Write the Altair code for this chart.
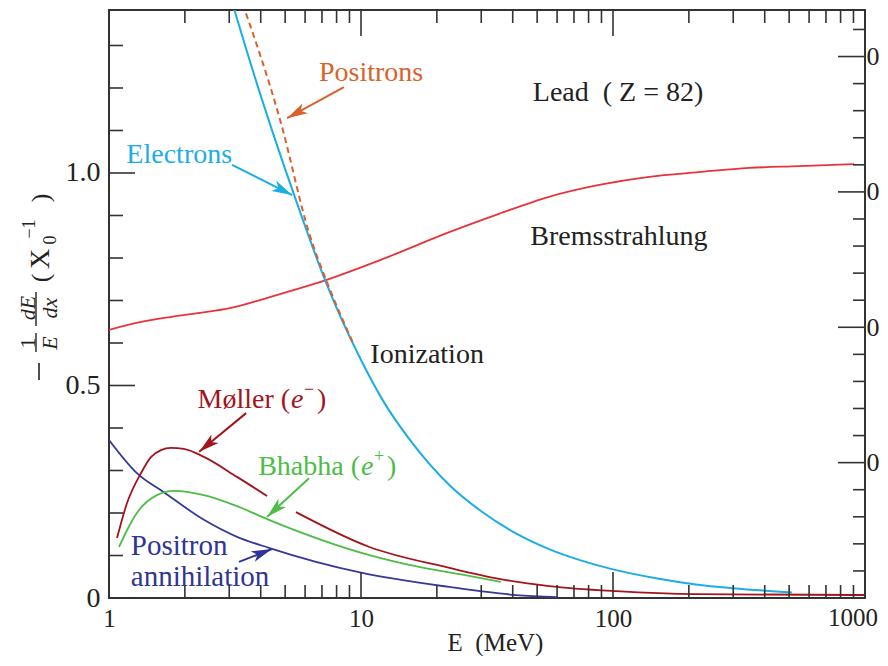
import math
import altair as alt
import pandas as pd

SERIF = "Liberation Serif"
INK = "#222222"

# ---------------- data (E in MeV, value in X0^-1) ----------------
electron_E = [3.0, 3.13, 4.05, 5.52, 7.20, 10.0, 12.5, 15.5, 22.4, 30.2, 41.2, 55.7, 75, 99.1, 150, 213, 300, 513]
electron_v = [1.425, 1.388, 1.172, 0.936, 0.748, 0.56, 0.455, 0.375, 0.266, 0.203, 0.152, 0.115, 0.088, 0.068, 0.046, 0.032, 0.023, 0.013]

positron_E = [3.29, 4.81, 6.22, 7.46, 9.3]
positron_v = [1.42, 1.118, 0.859, 0.732, 0.60]

brems_E = [1.0, 1.327, 1.746, 2.296, 3.02, 3.97, 5.23, 7.26, 11.9, 22.4, 35.3, 55.7, 88.1, 139, 219, 347, 549, 906]
brems_v = [0.631, 0.649, 0.661, 0.671, 0.682, 0.701, 0.722, 0.748, 0.795, 0.861, 0.904, 0.944, 0.972, 0.991, 1.002, 1.012, 1.016, 1.021]

moller1_E = [1.076, 1.18, 1.34, 1.47, 1.61, 1.76, 1.98, 2.38, 3.22, 4.24]
moller1_v = [0.141, 0.224, 0.294, 0.332, 0.348, 0.353, 0.351, 0.332, 0.285, 0.240]
moller2_E = [5.52, 10.8, 22.4, 35.3, 55.7, 103, 213, 1000]
moller2_v = [0.202, 0.120, 0.071, 0.045, 0.028, 0.016, 0.009, 0.007]

bhabha_E = [1.096, 1.18, 1.29, 1.55, 1.81, 2.38, 3.22, 4.31, 10.8, 17.0, 26.8, 35.9]
bhabha_v = [0.12, 0.16, 0.20, 0.242, 0.252, 0.242, 0.216, 0.184, 0.101, 0.073, 0.052, 0.038]

annih_E = [1.0, 1.29, 1.65, 2.38, 3.22, 4.31, 10.1, 22.4, 41.2, 60]
annih_v = [0.372, 0.294, 0.249, 0.184, 0.144, 0.118, 0.059, 0.026, 0.007, 0.002]

# tick values
x_major = [1, 10, 100, 1000]
x_minor = [2, 3, 4, 5, 6, 7, 8, 9, 20, 30, 40, 50, 60, 70, 80, 90,
           200, 300, 400, 500, 600, 700, 800, 900]
y_major = [0, 0.5, 1.0]
y_minor = [0.1, 0.2, 0.3, 0.4, 0.6, 0.7, 0.8, 0.9, 1.1, 1.2, 1.3]
X0_LEAD = 6.37  # g/cm^2 (right axis in cm^2/g)
r_major = [0.05, 0.10, 0.15, 0.20]
r_minor = [0.01, 0.02, 0.03, 0.04, 0.06, 0.07, 0.08, 0.09, 0.11, 0.12, 0.13, 0.14,
           0.16, 0.17, 0.18, 0.19, 0.21]

# annotations (data coordinates)
label_text = ["Positrons", "Electrons", "Lead\u2002( Z = 82)", "Bremsstrahlung", "Ionization"]
label_E = [10.96, 1.90, 104.7, 105.6, 18.3]
label_v = [1.235, 1.042, 1.188, 0.849, 0.572]
label_col = ["#d9622b", "#1aaee5", INK, INK, INK]

left_text = ["Positron", "annihilation"]
left_E = [1.22, 1.22]
left_v = [0.123, 0.049]

# composite labels "Møller (e−)" / "Bhabha (e+)": anchor where "(" ends
comp_name = ["Møller (", "Bhabha ("]
comp_sup = ["−", "+"]
comp_E = [5.23, 9.91]
comp_v = [0.466, 0.308]
comp_col = ["#a3141c", "#4dbd48"]

arrow_E0 = [8.56, 3.08, 3.50, 6.22, 3.28]
arrow_v0 = [1.202, 1.019, 0.435, 0.282, 0.085]
arrow_E1 = [5.09, 5.33, 2.28, 4.24, 4.43]
arrow_v1 = [1.129, 0.948, 0.344, 0.191, 0.115]
arrow_col = ["#d9622b", "#1aaee5", "#a3141c", "#4dbd48", "#2f3596"]

# ---------------- layout ----------------
W, H = 756, 588
YMAX = 1.3835
XS = alt.Scale(type="log", domain=[1, 1000], nice=False)
YS = alt.Scale(domain=[0, YMAX], nice=False, zero=False)

x_axis = alt.Axis(values=[1, 10, 100], format="d", ticks=False, domain=False, grid=False,
                  labelFlush=False,
                  labelFont=SERIF, labelFontSize=25, labelColor=INK, labelPadding=8,
                  title="E\u2002(MeV)", titleFont=SERIF, titleFontSize=25,
                  titleFontWeight="normal", titleColor=INK, titleX=386, titleY=52,
                  titleAlign="center", titleBaseline="alphabetic")
y_axis = alt.Axis(values=y_major, labelExpr="datum.value == 0 ? '0' : format(datum.value, '.1f')",
                  ticks=False, domain=False, grid=False, labelFlush=False, labelFont=SERIF,
                  labelFontSize=28, labelColor=INK, labelPadding=9, title=None)


def X(field="E"):
    return alt.X(f"{field}:Q", scale=XS, axis=x_axis)


def Y(field="v"):
    return alt.Y(f"{field}:Q", scale=YS, axis=y_axis)


def curve(E, v, color, width=1.8, dash=None):
    kw = dict(color=color, strokeWidth=width, interpolate="monotone", clip=True)
    if dash:
        kw["strokeDash"] = dash
    return alt.Chart(pd.DataFrame({"E": E, "v": v})).mark_line(**kw).encode(x=X(), y=Y())


layers = [
    curve(brems_E, brems_v, "#e8333c"),
    curve(annih_E, annih_v, "#353a96"),
    curve(bhabha_E, bhabha_v, "#4dbd48"),
    curve(moller1_E, moller1_v, "#a3141c"),
    curve(moller2_E, moller2_v, "#a3141c"),
    curve(electron_E, electron_v, "#1aaee5", width=2.0),
    curve(positron_E, positron_v, "#d9622b", width=2.0, dash=[6, 4]),
]

TICK = dict(color="#333333", strokeWidth=1.6)


def xticks(vals, length, top):
    c = alt.Chart(pd.DataFrame({"E": vals})).mark_rule(**TICK)
    if top:
        return c.encode(x=X(), y=alt.value(0), y2=alt.value(length))
    return c.encode(x=X(), y=alt.value(H), y2=alt.value(H - length))


def yticks(vals, length):
    return alt.Chart(pd.DataFrame({"v": vals})).mark_rule(**TICK).encode(
        y=Y(), x=alt.value(0), x2=alt.value(length))


layers += [
    xticks(x_major, 26, False),
    xticks(x_minor, 13, False),
    xticks(x_major, 26, True),
    xticks(x_minor, 13, True),
    yticks(y_major, 26),
    yticks(y_minor, 14),
]

# "1000" label placed slightly inside the frame, as in the reference
layers.append(
    alt.Chart(pd.DataFrame({"E": [1000], "t": ["1000"]})).mark_text(
        font=SERIF, fontSize=25, color=INK, align="right", baseline="top", dx=13
    ).encode(x=X(), y=alt.value(H + 8), text="t:N")
)

# arrows
px_dec = W / 3.0
px_unit = H / YMAX
ang = []
for e0, v0, e1, v1 in zip(arrow_E0, arrow_v0, arrow_E1, arrow_v1):
    dx = px_dec * math.log10(e1 / e0)
    dy = -px_unit * (v1 - v0)
    ang.append(math.degrees(math.atan2(dx, -dy)) % 360)
arrows = pd.DataFrame({"E0": arrow_E0, "v0": arrow_v0, "E1": arrow_E1, "v1": arrow_v1,
                       "c": arrow_col, "a": ang})
layers.append(
    alt.Chart(arrows).mark_rule(strokeWidth=2).encode(
        x=X("E0"), y=Y("v0"), x2="E1:Q", y2="v1:Q", color=alt.Color("c:N", scale=None))
)
layers.append(
    alt.Chart(arrows).mark_point(shape="M0,0L0.55,2L0,1.5L-0.55,2Z", filled=True, size=420,
                                 opacity=1, strokeWidth=0).encode(
        x=X("E1"), y=Y("v1"), color=alt.Color("c:N", scale=None),
        angle=alt.Angle("a:Q", scale=None))
)

# curve labels
LBL = 28
layers.append(
    alt.Chart(pd.DataFrame({"E": label_E, "v": label_v, "t": label_text, "c": label_col}))
    .mark_text(font=SERIF, fontSize=LBL, align="center", baseline="middle")
    .encode(x=X(), y=Y(), text="t:N", color=alt.Color("c:N", scale=None))
)
layers.append(
    alt.Chart(pd.DataFrame({"E": left_E, "v": left_v, "t": left_text}))
    .mark_text(font=SERIF, fontSize=29, align="left", baseline="middle", color="#2f3596")
    .encode(x=X(), y=Y(), text="t:N")
)
comp = pd.DataFrame({"E": comp_E, "v": comp_v, "t": comp_name, "s": comp_sup, "c": comp_col,
                     "e": ["e", "e"], "p": [")", ")"]})
CC = alt.Color("c:N", scale=None)
layers += [
    alt.Chart(comp).mark_text(font=SERIF, fontSize=LBL, align="right", baseline="middle")
    .encode(x=X(), y=Y(), text="t:N", color=CC),
    alt.Chart(comp).mark_text(font=SERIF, fontSize=LBL, fontStyle="italic", align="left",
                              baseline="middle", dx=1)
    .encode(x=X(), y=Y(), text="e:N", color=CC),
    alt.Chart(comp).mark_text(font=SERIF, fontSize=18, align="left", baseline="middle",
                              dx=14, dy=-10)
    .encode(x=X(), y=Y(), text="s:N", color=CC),
    alt.Chart(comp).mark_text(font=SERIF, fontSize=LBL, align="left", baseline="middle", dx=27)
    .encode(x=X(), y=Y(), text="p:N", color=CC),
]

# y-axis title  -(1/E)(dE/dx) (X0^-1), built from rotated pieces
DUMMY = alt.Data(values=[{}])


def ptxt(t, x, y, size=22, style="normal"):
    return alt.Chart(DUMMY).mark_text(text=t, font=SERIF, fontSize=size, fontStyle=style,
                                      color=INK, angle=270, align="center",
                                      baseline="middle").encode(x=alt.value(x), y=alt.value(y))


def pbar(x, y0, y1, w=1.4):
    return alt.Chart(DUMMY).mark_rule(color=INK, strokeWidth=w).encode(
        x=alt.value(x), y=alt.value(y0), y2=alt.value(y1))


layers += [
    pbar(-70, 353, 370, 1.6),
    ptxt("1", -81, 333, 22),
    pbar(-73, 323, 342),
    ptxt("E", -59, 333, 22, "italic"),
    ptxt("dE", -81, 298, 22, "italic"),
    pbar(-73, 282, 316),
    ptxt("dx", -59, 298, 22, "italic"),
    ptxt("(", -68, 268, 26),
    ptxt("X", -68, 249, 28),
    ptxt("0", -58, 230, 18),
    ptxt("−1", -79, 219, 18),
    ptxt(")", -68, 188, 26),
]

main = alt.layer(*layers)

# right-hand axis (cm^2/g), labels cut like the reference
RS = alt.Scale(domain=[0, YMAX / X0_LEAD], nice=False, zero=False)
r_axis = alt.Axis(orient="right", values=r_major, labelExpr="'0'", ticks=False, domain=False,
                  grid=False, labelFlush=False, labelFont=SERIF, labelFontSize=26,
                  labelColor=INK, labelPadding=1, title=None)
right = alt.layer(
    alt.Chart(pd.DataFrame({"r": r_major})).mark_rule(**TICK).encode(
        y=alt.Y("r:Q", scale=RS, axis=r_axis), x=alt.value(W), x2=alt.value(W - 27)),
    alt.Chart(pd.DataFrame({"r": r_minor})).mark_rule(**TICK).encode(
        y=alt.Y("r:Q", scale=RS, axis=r_axis), x=alt.value(W), x2=alt.value(W - 12)),
)

chart = (
    alt.layer(main, right)
    .resolve_scale(y="independent")
    .properties(width=W, height=H, padding={"left": 101, "top": 2, "right": 15, "bottom": 58},
                autosize=alt.AutoSizeParams(type="none"), background="white")
    .configure_view(stroke="#333333", strokeWidth=2)
)

chart.save("out.html", embed_options={"renderer": "svg", "actions": False})
